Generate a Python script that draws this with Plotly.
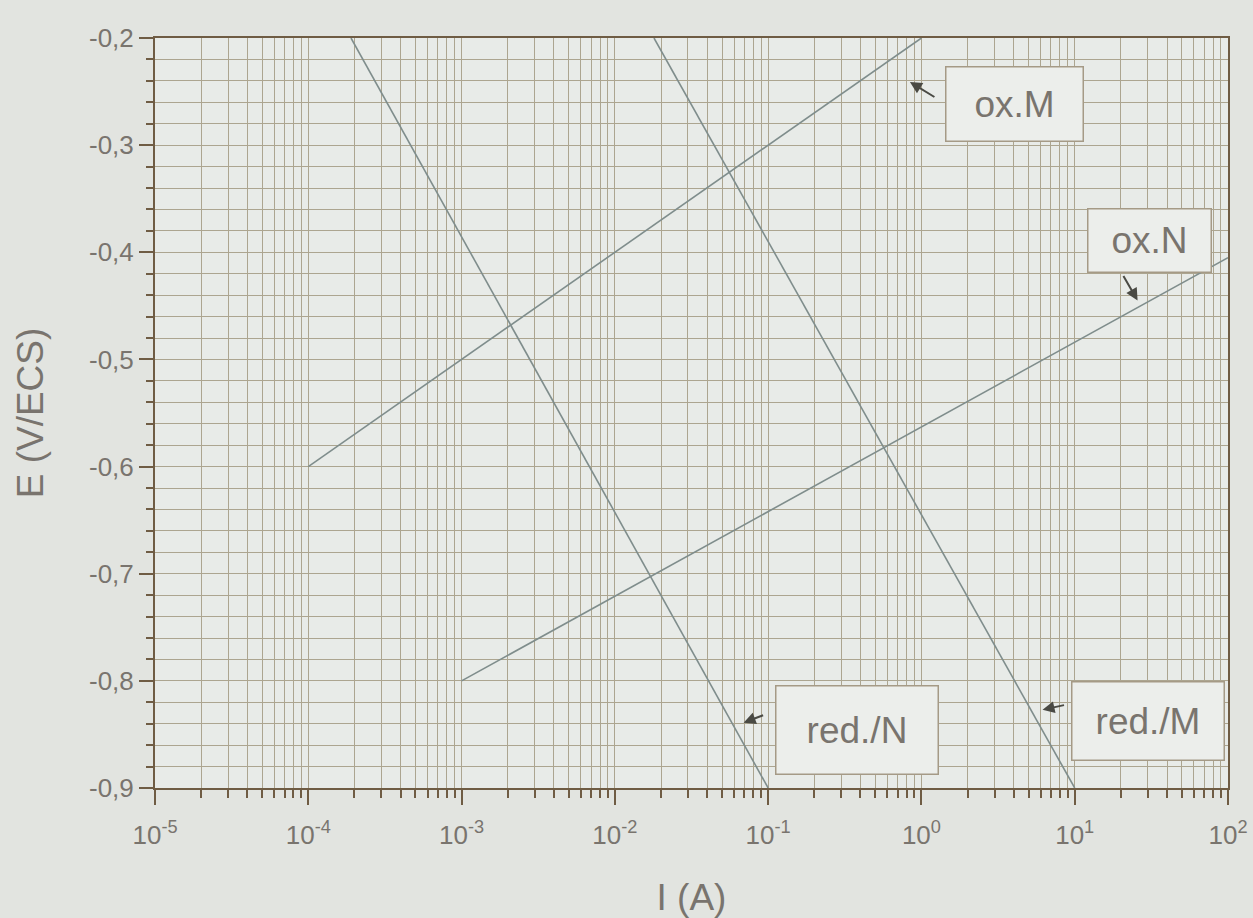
import plotly.graph_objects as go

# Tafel lines: current I (A) vs potential E (V/ECS)
ox_M_I = [1e-4, 1e0]
ox_M_E = [-0.60, -0.20]

ox_N_I = [1e-3, 1e2]
ox_N_E = [-0.80, -0.405]

red_N_I = [1.9e-4, 1e-1]
red_N_E = [-0.20, -0.90]

red_M_I = [1.8e-2, 1e1]
red_M_E = [-0.20, -0.90]

x_decades = [-5, -4, -3, -2, -1, 0, 1, 2]
x_ticktext = ["10<sup>%d</sup>" % d for d in x_decades]
y_ticks = [-0.9, -0.8, -0.7, -0.6, -0.5, -0.4, -0.3, -0.2]
y_ticktext = [("%.1f" % v).replace(".", ",") for v in y_ticks]

LINE = "#7f8d8c"
GRID = "#aca590"
AXIS = "#6f5c44"
TEXT = "#79746e"
FONT = "Liberation Sans, Arial, sans-serif"

fig = go.Figure()
for xs, ys in [(ox_M_I, ox_M_E), (ox_N_I, ox_N_E), (red_N_I, red_N_E), (red_M_I, red_M_E)]:
    fig.add_trace(go.Scatter(x=xs, y=ys, mode="lines",
                             line=dict(color=LINE, width=1.6),
                             showlegend=False, hoverinfo="skip"))

x_major = [10.0 ** d for d in x_decades]
x_minor = [k * 10.0 ** d for d in x_decades[:-1] for k in range(2, 10)]

fig.update_xaxes(
    type="log", range=[-5, 2],
    tickmode="array", tickvals=x_major, ticktext=x_ticktext,
    ticks="outside", ticklen=15, tickwidth=1.5, tickcolor=AXIS,
    ticklabelstandoff=8,
    showgrid=True, gridcolor=GRID, gridwidth=1,
    minor=dict(tickmode="array", tickvals=x_minor, ticks="outside",
               ticklen=8, tickwidth=1.5, tickcolor=AXIS,
               showgrid=True, gridcolor=GRID, gridwidth=1),
    showline=True, linecolor=AXIS, linewidth=2, mirror=True,
    zeroline=False,
    tickfont=dict(family=FONT, size=26, color=TEXT),
    title=dict(text="I (A)", font=dict(family=FONT, size=37, color=TEXT), standoff=36),
)
fig.update_yaxes(
    range=[-0.9, -0.2],
    tickmode="array", tickvals=y_ticks, ticktext=y_ticktext,
    ticks="outside", ticklen=14, tickwidth=1.5, tickcolor=AXIS,
    showgrid=True, gridcolor=GRID, gridwidth=1,
    minor=dict(dtick=0.02, tick0=-0.9, ticks="outside", ticklen=7,
               tickwidth=1.5, tickcolor=AXIS,
               showgrid=True, gridcolor=GRID, gridwidth=1),
    showline=True, linecolor=AXIS, linewidth=2, mirror=True,
    zeroline=False,
    tickfont=dict(family=FONT, size=26, color=TEXT),
    title=dict(text="E (V/ECS)", font=dict(family=FONT, size=37, color=TEXT), standoff=34),
)

# label boxes (x in log10 units on the log axis)
boxes = [
    ("ox.M", 0.61, -0.262, 134, 71),
    ("ox.N", 1.49, -0.389, 120, 60),
    ("red./N", -0.42, -0.846, 159, 85),
    ("red./M", 1.48, -0.837, 149, 75),
]
for txt, lx, e, w, h in boxes:
    fig.add_annotation(x=lx, y=e, xref="x", yref="y", text=txt, showarrow=False,
                       width=w, height=h, bgcolor="#eceeeb",
                       bordercolor="#a59a86", borderwidth=1.5,
                       font=dict(family=FONT, size=37, color=TEXT))

# short pointer arrows from boxes to lines
arrows = [
    (-0.075, -0.241, 26, 16),
    (1.41, -0.445, -15, -26),
    (-1.16, -0.839, 21, -8),
    (0.79, -0.827, 23, -5),
]
for lx, e, ax, ay in arrows:
    fig.add_annotation(x=lx, y=e, xref="x", yref="y", text="", showarrow=True,
                       ax=ax, ay=ay, arrowhead=2, arrowsize=1.2, arrowwidth=2,
                       arrowcolor="#4a4a44")

fig.update_layout(
    width=1253, height=918,
    margin=dict(l=155, r=25, t=38, b=130, autoexpand=False),
    paper_bgcolor="#e2e4e0",
    plot_bgcolor="#e8ebe8",
    showlegend=False,
)

fig.write_html("out.html")
